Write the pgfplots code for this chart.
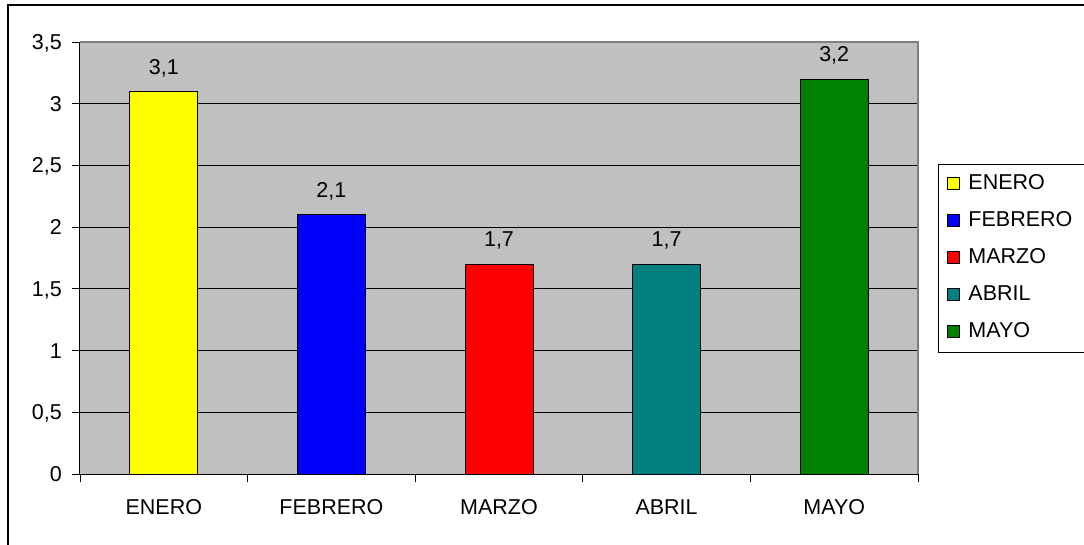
\documentclass[border=0pt]{standalone}
\usepackage{pgfplots}
\pgfplotsset{compat=1.18}
\usepackage{fontspec}
\setmainfont{Liberation Sans}
\definecolor{plotbg}{HTML}{C0C0C0}
\definecolor{bordergray}{HTML}{808080}
\definecolor{cyellow}{HTML}{FFFF00}
\definecolor{cblue}{HTML}{0000FF}
\definecolor{cred}{HTML}{FF0000}
\definecolor{cteal}{HTML}{008080}
\definecolor{cgreen}{HTML}{008000}
\newcommand\lf{\fontsize{21.5}{25}\selectfont}
\begin{document}
\begin{tikzpicture}
\useasboundingbox (0,0) rectangle (1084pt,544pt);
\clip (0,0) rectangle (1084pt,544pt);
\fill[white] (0,0) rectangle (1084pt,544pt);
\draw[line width=1.5pt] (8pt,539pt) rectangle (1100pt,-10pt);
\begin{axis}[
  at={(80pt,70pt)}, anchor=south west,
  scale only axis, width=838pt, height=432pt,
  xmin=-0.5, xmax=4.5, ymin=0, ymax=3.5,
  clip=false,
  axis background/.style={fill=plotbg},
  axis line style={draw=none},
  ybar, bar width=68pt, bar shift=0pt,
  legend image code/.code={\draw[#1] (0pt,-5pt) rectangle (12pt,7pt);},
  xtick={0,1,2,3,4},
  xticklabels={ENERO,FEBRERO,MARZO,ABRIL,MAYO},
  minor xtick={-0.5,0.5,1.5,2.5,3.5,4.5},
  ytick={0,0.5,1,1.5,2,2.5,3,3.5},
  tick align=outside, xtick pos=bottom, ytick pos=left,
  major tick length=8pt, minor tick length=8pt,
  major x tick style={draw=none},
  minor x tick style={black, line width=0.8pt},
  ytick style={black, line width=0.8pt},
  ymajorgrids, major grid style={black, line width=0.8pt},
  tick label style={font=\lf},
  xticklabel style={anchor=base, inner sep=0pt, yshift=-32pt},
  yticklabel style={anchor=base east, inner sep=0pt, xshift=-10pt, yshift=-7.5pt},
  /pgf/number format/assume math mode=true,
  /pgf/number format/use comma,
  nodes near coords,
  nodes near coords style={font=\lf, inner sep=0pt, yshift=14pt, black,
    /pgf/number format/.cd, fixed, precision=1, use comma},
  legend entries={\makebox[112pt][l]{ENERO},\makebox[112pt][l]{FEBRERO},\makebox[112pt][l]{MARZO},\makebox[112pt][l]{ABRIL},\makebox[112pt][l]{MAYO}},
  legend cell align=left,
  legend style={at={(axis description cs:1.0239,0.7176)}, anchor=north west,
    draw=black, line width=0.8pt, fill=white, font=\lf,
    inner xsep=9pt, inner ysep=9pt, row sep=15pt,
    nodes={inner sep=0pt, text height=16pt, text depth=6pt},
    /tikz/every odd column/.append style={column sep=8pt}},
]
\addplot[fill=cyellow, draw=black, line width=1pt] coordinates {(0,3.1)};
\addplot[fill=cblue, draw=black, line width=1pt] coordinates {(1,2.1)};
\addplot[fill=cred, draw=black, line width=1pt] coordinates {(2,1.7)};
\addplot[fill=cteal, draw=black, line width=1pt] coordinates {(3,1.7)};
\addplot[fill=cgreen, draw=black, line width=1pt] coordinates {(4,3.2)};
\draw[bordergray, line width=1.2pt] (rel axis cs:0,1) -- (rel axis cs:1,1) -- (rel axis cs:1,0);
\draw[black, line width=1pt] (rel axis cs:0,1) -- (rel axis cs:0,0) -- (rel axis cs:1,0);
\end{axis}
\end{tikzpicture}
\end{document}
